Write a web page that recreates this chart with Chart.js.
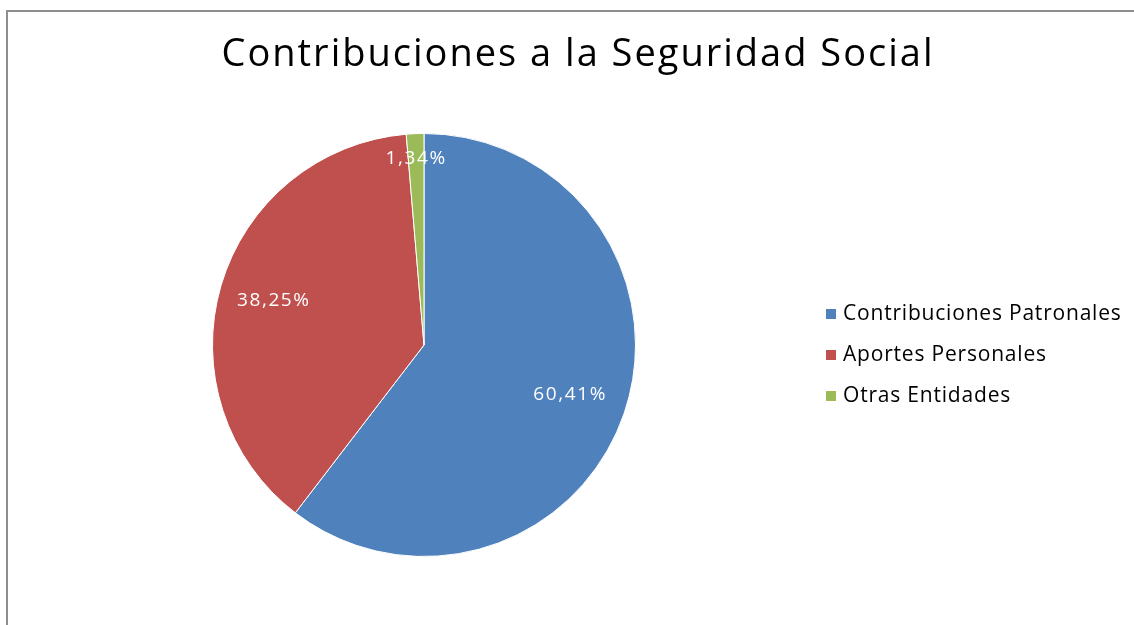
<!DOCTYPE html>
<html>
<head>
<meta charset="utf-8">
<script src="https://cdn.jsdelivr.net/npm/chart.js@4"></script>
<style>
  body { margin: 0; background: #fff; }
  #wrap { width: 1134px; height: 625px; position: relative; }
</style>
</head>
<body>
<div id="wrap"><canvas id="myChart" width="1134" height="625"></canvas></div>
<script>
// contribuciones pie chart
const titleText = 'Contribuciones a la Seguridad Social';
const categories = ['Contribuciones Patronales', 'Aportes Personales', 'Otras Entidades'];
const shares = [60.41, 38.25, 1.34];
const sliceColors = ['#4F81BD', '#C0504D', '#9BBB59'];

const FONT = '"Open Sans", "Noto Sans", sans-serif';

// frame, title, legend and value labels
const decorations = {
    id: 'decorations',
    afterDraw(chart) {
        const c = chart.ctx;
        c.save();
        c.strokeStyle = '#8e8e8e';
        c.lineWidth = 2;
        c.strokeRect(7, 11, 1200, 700);

        c.fillStyle = '#000';
        c.font = '38px ' + FONT;
        c.letterSpacing = '2px';
        c.textAlign = 'center';
        c.textBaseline = 'middle';
        c.fillText(titleText, 578, 55);

        // value labels
        const meta = chart.getDatasetMeta(0);
        const dist = [0.73, 0.74, 0.88];
        c.fillStyle = '#fff';
        c.font = '19px ' + FONT;
        c.letterSpacing = '1.6px';
        meta.data.forEach((arc, i) => {
            const mid = (arc.startAngle + arc.endAngle) / 2;
            const r = arc.outerRadius * dist[i];
            const x = arc.x + Math.cos(mid) * r;
            const y = arc.y + Math.sin(mid) * r;
            c.fillText(shares[i].toFixed(2).replace('.', ',') + '%', x, y);
        });

        // legend
        c.textAlign = 'left';
        c.font = '21px ' + FONT;
        c.letterSpacing = '0.8px';
        categories.forEach((name, i) => {
            const y = 314 + i * 41;
            c.fillStyle = sliceColors[i];
            c.fillRect(826, y - 5, 10, 10);
            c.fillStyle = '#000';
            c.fillText(name, 843, y);
        });
        c.restore();
    }
};

const ctx = document.getElementById('myChart').getContext('2d');
const myChart = new Chart(ctx, {
    type: 'pie',
    data: {
        labels: categories,
        datasets: [{
            data: shares,
            backgroundColor: sliceColors,
            borderColor: '#ffffff',
            borderWidth: 1
        }]
    },
    options: {
        responsive: false,
        animation: false,
        layout: {
            padding: { left: 212, right: 498, top: 133, bottom: 68 }
        },
        plugins: {
            legend: { display: false },
            title: { display: false },
            tooltip: { enabled: false }
        }
    },
    plugins: [decorations]
});
</script>
</body>
</html>
